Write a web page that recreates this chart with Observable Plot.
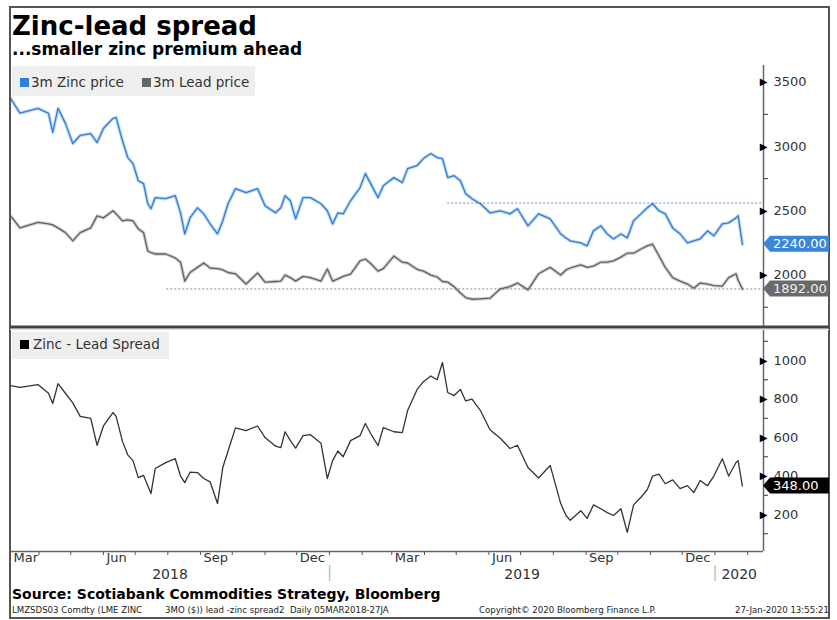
<!DOCTYPE html>
<html><head><meta charset="utf-8">
<script src="https://cdn.jsdelivr.net/npm/d3@7"></script>
<script src="https://cdn.jsdelivr.net/npm/@observablehq/plot@0.6"></script>
<style>
body{margin:0;background:#fff;}
#wrap{position:relative;width:837px;height:620px;overflow:hidden;background:#fff;}
#wrap svg{position:absolute;left:0;}
</style></head><body><div id="wrap"></div>
<script>
// ---- data ----
const dates = ["2018-03-05","2018-03-14","2018-03-31","2018-04-10","2018-04-14","2018-04-19","2018-04-26","2018-05-03","2018-05-10","2018-05-20",
"2018-05-26","2018-06-01","2018-06-10","2018-06-13","2018-06-19","2018-06-24","2018-06-29","2018-07-04","2018-07-09","2018-07-13",
"2018-07-16","2018-07-20","2018-07-30","2018-08-08","2018-08-13","2018-08-17","2018-08-22","2018-08-29","2018-09-04","2018-09-10",
"2018-09-17","2018-09-22","2018-09-27","2018-10-04","2018-10-14","2018-10-25","2018-11-01","2018-11-11","2018-11-16","2018-11-20",
"2018-11-25","2018-11-30","2018-12-07","2018-12-14","2018-12-24","2018-12-30","2019-01-04","2019-01-09","2019-01-14","2019-01-21",
"2019-01-30","2019-02-04","2019-02-09","2019-02-16","2019-02-21","2019-03-03","2019-03-11","2019-03-16","2019-03-25","2019-03-31",
"2019-04-07","2019-04-13","2019-04-18","2019-04-23","2019-04-29","2019-05-05","2019-05-10","2019-05-16","2019-05-24","2019-06-02",
"2019-06-12","2019-06-21","2019-06-28","2019-07-08","2019-07-18","2019-07-29","2019-08-08","2019-08-13","2019-08-17","2019-08-27",
"2019-09-02","2019-09-08","2019-09-15","2019-09-21","2019-09-27","2019-10-04","2019-10-10","2019-10-16","2019-10-23","2019-10-29",
"2019-11-03","2019-11-09","2019-11-15","2019-11-22","2019-11-29","2019-12-06","2019-12-12","2019-12-18","2019-12-25","2019-12-31",
"2020-01-08","2020-01-14","2020-01-21","2020-01-23","2020-01-27"];

const zinc = [3375,3260,3297,3258,3110,3297,3180,3023,3086,3100,
3031,3140,3219,3225,3047,2914,2867,2734,2711,2555,
2516,2602,2594,2617,2484,2320,2445,2523,2476,2398,
2320,2422,2555,2672,2641,2672,2539,2484,2523,2617,
2578,2437,2602,2602,2555,2500,2398,2484,2476,2578,
2680,2789,2711,2602,2695,2758,2719,2828,2852,2906,
2945,2914,2906,2758,2773,2734,2633,2594,2555,2484,
2500,2476,2516,2383,2476,2437,2320,2289,2266,2250,
2227,2344,2383,2320,2281,2320,2289,2422,2476,2523,
2555,2500,2476,2367,2320,2250,2266,2281,2344,2305,
2398,2406,2445,2461,2240];

const lead = [2461,2367,2410,2398,2390,2367,2330,2266,2330,2367,
2460,2445,2500,2476,2422,2430,2422,2360,2330,2187,
2175,2164,2164,2133,2100,1953,2020,2060,2094,2055,
2050,2040,2020,2010,1930,2016,1945,1950,1953,2000,
1980,1953,1990,1980,1953,2047,1953,1970,1990,2008,
2110,2125,2090,2031,2050,2148,2100,2094,2045,2031,
2000,1985,1950,1945,1910,1860,1825,1812,1815,1820,
1893,1910,1938,1885,2010,2060,2000,2040,2055,2080,
2060,2070,2100,2100,2110,2140,2170,2170,2203,2227,
2240,2150,2060,1980,1953,1930,1898,1938,1930,1918,
1914,1980,2010,1960,1892];

const spread = [870,860,875,830,777,880,830,780,710,700,
560,660,730,710,580,510,480,392,403,350,
309,439,470,490,400,366,420,418,387,370,
257,444,530,650,636,660,600,555,548,630,
584,545,610,615,570,387,480,530,500,584,
610,673,621,558,652,630,626,740,850,890,
920,900,990,834,818,850,790,800,740,640,
595,543,560,444,390,455,257,195,170,220,
180,250,230,210,195,230,107,250,290,330,
400,410,360,380,335,350,314,377,350,400,
490,400,470,480,348];

const priceTicks = [2000, 2500, 3000, 3500];
const priceMinorTicks = [1750, 2250, 2750, 3250];
const spreadTicks = [200, 400, 600, 800, 1000];
const spreadMinorTicks = [100, 300, 500, 700, 900, 1100];
const monthLabelDates = ["2018-03-05","2018-06-01","2018-09-01","2018-12-01","2019-03-01","2019-06-01","2019-09-01","2019-12-01"];
const monthLabels = ["Mar","Jun","Sep","Dec","Mar","Jun","Sep","Dec"];
const years = ["2018","2019","2020"];
const zincLevel = {value: 2560, from: "2019-04-23"};
const leadLevel = {value: 1892, from: "2018-07-31"};

// ---- chart ----
const parse = s => new Date(s + "T00:00:00Z");
const xDomain = [parse("2018-03-05"), parse("2020-02-16")];
const rows = dates.map((d, i) => ({date: parse(d), zinc: zinc[i], lead: lead[i], spread: spread[i]}));
const W = 837;
const zincColor = "#2f7ed8", leadColor = "#626262";
const font = "'DejaVu Sans', Verdana, sans-serif";

const topPlot = Plot.plot({
  width: W, height: 330, marginLeft: 10, marginRight: 74, marginTop: 65, marginBottom: 4,
  style: {fontFamily: font, fontSize: "13px", color: "#333", background: "transparent", overflow: "visible"},
  x: {type: "utc", domain: xDomain, axis: null},
  y: {domain: [1600, 3630], label: null},
  marks: [
    Plot.ruleY([zincLevel], {y: "value", x1: d => parse(d.from), x2: () => xDomain[1], stroke: "#5b95dd", strokeDasharray: "2,2", strokeWidth: 1}),
    Plot.ruleY([leadLevel], {y: "value", x1: d => parse(d.from), x2: () => xDomain[1], stroke: "#888", strokeDasharray: "2,2", strokeWidth: 1}),
    Plot.line(rows, {x: "date", y: "zinc", stroke: zincColor, strokeWidth: 3.4, strokeOpacity: 0.3}),
    Plot.line(rows, {x: "date", y: "zinc", stroke: zincColor, strokeWidth: 1.3}),
    Plot.line(rows, {x: "date", y: "lead", stroke: leadColor, strokeWidth: 3.4, strokeOpacity: 0.3}),
    Plot.line(rows, {x: "date", y: "lead", stroke: leadColor, strokeWidth: 1.3}),
    Plot.ruleX([xDomain[1]], {stroke: "#666", strokeWidth: 1.5}),
    Plot.axisY({anchor: "right", ticks: priceMinorTicks, tickSize: 4, tickFormat: () => "", label: null}),
    Plot.axisY({anchor: "right", ticks: priceTicks, tickSize: 0, tickPadding: 10, tickFormat: d => String(d), fontSize: 13, label: null}),
    Plot.text(priceTicks, {y: d => d, frameAnchor: "right", text: () => "\u25B6", dx: 4, fontSize: 10, fill: "#000"})
  ]
});
topPlot.style.top = "0px";

const yDom2 = [8, 1156];
const bottomPlot = Plot.plot({
  width: W, height: 264, marginLeft: 10, marginRight: 74, marginTop: 4, marginBottom: 39,
  style: {fontFamily: font, fontSize: "13px", color: "#333", background: "transparent", overflow: "visible"},
  x: {type: "utc", domain: xDomain, label: null},
  y: {domain: yDom2, label: null},
  marks: [
    Plot.line(rows, {x: "date", y: "spread", stroke: "#333", strokeWidth: 1.3}),
    Plot.ruleX([xDomain[1]], {stroke: "#666", strokeWidth: 1.5}),
    Plot.ruleY([yDom2[0]], {stroke: "#666", strokeWidth: 1.5}),
    Plot.axisY({anchor: "right", ticks: spreadMinorTicks, tickSize: 4, tickFormat: () => "", label: null}),
    Plot.axisY({anchor: "right", ticks: spreadTicks, tickSize: 0, tickPadding: 10, tickFormat: d => String(d), fontSize: 13, label: null}),
    Plot.text(spreadTicks, {y: d => d, frameAnchor: "right", text: () => "\u25B6", dx: 4, fontSize: 10, fill: "#000"}),
    Plot.axisX({anchor: "bottom", ticks: d3.utcMonth.range(parse("2018-04-01"), parse("2020-02-02")), tickSize: 4, tickFormat: () => "", stroke: "#555", label: null}),
    Plot.text(monthLabelDates, {x: d => parse(d), text: (d, i) => monthLabels[i], frameAnchor: "bottom", dy: 10, dx: 3, textAnchor: "start", fontSize: 13, fill: "#333"}),
    Plot.text(years, {x: y => {
        const a = Math.max(+parse(y + "-01-01"), +xDomain[0]);
        const b = Math.min(+parse((+y + 1) + "-01-01"), +xDomain[1]);
        return new Date((a + b) / 2);
      }, text: d => d, frameAnchor: "bottom", dy: 27, fontSize: 14, fill: "#333"}),
    Plot.text(years.slice(1), {x: y => parse(y + "-01-01"), text: () => "|", frameAnchor: "bottom", dy: 25, fontSize: 15, fill: "#bbb"})
  ]
});
bottomPlot.style.top = "326px";

const wrap = document.getElementById("wrap");
wrap.appendChild(topPlot);
wrap.appendChild(bottomPlot);

// ---- overlay: frame, titles, legends, value tags ----
const svg = d3.select(wrap).append("svg").attr("width", W).attr("height", 620)
  .style("top", "0px").style("pointer-events", "none").attr("font-family", font);

svg.append("rect").attr("x", 10).attr("y", 7).attr("width", 819).attr("height", 611)
  .attr("fill", "none").attr("stroke", "#555").attr("stroke-width", 2);
svg.append("line").attr("x1", 10).attr("x2", 829).attr("y1", 327).attr("y2", 327).attr("stroke", "#444").attr("stroke-width", 3);
svg.append("line").attr("x1", 10).attr("x2", 829).attr("y1", 329.5).attr("y2", 329.5).attr("stroke", "#ddd").attr("stroke-width", 1);

svg.append("text").attr("x", 12).attr("y", 35).attr("font-size", 26).attr("font-weight", "bold").attr("fill", "#000").text("Zinc-lead spread");
svg.append("text").attr("x", 12).attr("y", 55).attr("font-size", 17).attr("font-weight", "bold").attr("fill", "#000").text("...smaller zinc premium ahead");
svg.append("text").attr("x", 12).attr("y", 599).attr("font-size", 14).attr("font-weight", "bold").attr("fill", "#000").text("Source:  Scotiabank Commodities Strategy, Bloomberg");

const foot = [["LMZSDS03 Comdty (LME ZINC", 12, "start"], ["3MO ($)) lead -zinc spread2  Daily 05MAR2018-27JA", 165, "start"],
  ["Copyright\u00A9 2020 Bloomberg Finance L.P.", 479, "start"], ["27-Jan-2020 13:55:21", 829, "end"]];
foot.forEach(([t, x, a]) => svg.append("text").attr("x", x).attr("y", 613).attr("font-size", 8.6).attr("text-anchor", a).attr("fill", "#222").style("white-space", "pre").text(t));

// legends
svg.append("rect").attr("x", 12).attr("y", 66).attr("width", 243).attr("height", 30).attr("fill", "#efefef");
svg.append("rect").attr("x", 20).attr("y", 78).attr("width", 9).attr("height", 9).attr("fill", zincColor);
svg.append("text").attr("x", 31).attr("y", 87).attr("font-size", 13.5).attr("fill", "#333").text("3m Zinc price");
svg.append("rect").attr("x", 142).attr("y", 78).attr("width", 9).attr("height", 9).attr("fill", "#666");
svg.append("text").attr("x", 153).attr("y", 87).attr("font-size", 13.5).attr("fill", "#333").text("3m Lead price");

svg.append("rect").attr("x", 12).attr("y", 332).attr("width", 157).attr("height", 27).attr("fill", "#efefef");
svg.append("rect").attr("x", 20).attr("y", 340).attr("width", 9).attr("height", 9).attr("fill", "#000");
svg.append("text").attr("x", 33).attr("y", 349).attr("font-size", 13.5).attr("fill", "#333").text("Zinc - Lead Spread");

// value tags on the right axis, positioned with the plots' own y scales
function tag(y, label, fill, color) {
  const x0 = 763, x1 = 770, x2 = 829, h = 8;
  svg.append("path").attr("d", `M${x0},${y}L${x1},${y - h}L${x2},${y - h}L${x2},${y + h}L${x1},${y + h}Z`).attr("fill", fill);
  svg.append("text").attr("x", 773).attr("y", y + 4.6).attr("font-size", 13).attr("fill", color).text(label);
}
const yTop = topPlot.scale("y"), yBot = bottomPlot.scale("y");
tag(yTop.apply(zinc[zinc.length - 1]), zinc[zinc.length - 1].toFixed(2), "#3a86d9", "#fff");
tag(yTop.apply(lead[lead.length - 1]), lead[lead.length - 1].toFixed(2), "#6a6a6a", "#eee");
tag(326 + yBot.apply(spread[spread.length - 1]), spread[spread.length - 1].toFixed(2), "#000", "#fff");
</script></body></html>
